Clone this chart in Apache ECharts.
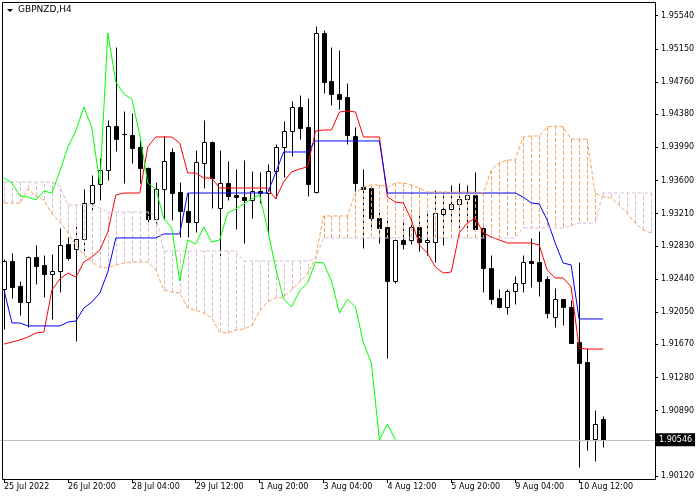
<!DOCTYPE html>
<html><head><meta charset="utf-8">
<script src="https://cdn.jsdelivr.net/npm/echarts@6/dist/echarts.min.js"></script>
<style>html,body{margin:0;padding:0;background:#fff}#c{width:700px;height:500px}</style>
</head><body><div id="c"></div><script>
const symbolTitle = 'GBPNZD,H4';
const open = [1.92322,1.92652,1.92357,1.92169,1.92699,1.92605,1.92499,1.92534,1.92852,1.92793,
1.92911,1.93335,1.93558,1.93723,1.94241,1.94147,1.94135,1.93994,1.93747,1.93146,
1.93500,1.93935,1.93464,1.93240,1.93111,1.93806,1.94053,1.93276,1.93570,1.93429,
1.93405,1.93370,1.93476,1.93452,1.93711,1.93994,1.94183,1.94465,1.94230,1.93464,
1.95336,1.94771,1.94618,1.94583,1.94124,1.93523,1.93511,1.93158,1.93052,1.92416,
1.92899,1.92899,1.93052,1.92875,1.92875,1.93205,1.93264,1.93323,1.93382,1.93429,
1.93040,1.92569,1.92216,1.92110,1.92298,1.92393,1.92652,1.92640,1.92440,1.91992,
1.92204,1.92110,1.91698,1.91462,1.90556,1.90791];
const high = [1.92675,1.92746,1.92416,1.92711,1.92840,1.92722,1.92734,1.93040,1.92934,1.93064,
1.93500,1.93664,1.93865,1.94312,1.95172,1.94418,1.94394,1.94077,1.93759,1.93582,
1.94124,1.93982,1.93582,1.93452,1.93959,1.94312,1.94065,1.93959,1.93829,1.93735,
1.93841,1.93711,1.93700,1.93794,1.94029,1.94300,1.94536,1.94606,1.94571,1.95419,
1.95372,1.95172,1.95136,1.94748,1.94230,1.93735,1.93535,1.93229,1.93158,1.92911,
1.93146,1.93205,1.93240,1.93229,1.93488,1.93452,1.93547,1.93570,1.93547,1.93700,
1.93052,1.92722,1.92322,1.92322,1.92475,1.92722,1.92923,1.93005,1.92475,1.92334,
1.92204,1.92193,1.92640,1.91627,1.90897,1.90827];
const low = [1.91851,1.92216,1.92016,1.91875,1.92381,1.92228,1.91969,1.92287,1.92664,1.91710,
1.92746,1.93229,1.93370,1.93606,1.93947,1.93570,1.93806,1.93570,1.93099,1.93099,
1.93146,1.93135,1.92934,1.92934,1.92993,1.93511,1.93276,1.92699,1.93370,1.93029,
1.92864,1.93158,1.93335,1.92958,1.93394,1.93641,1.93888,1.94088,1.93417,1.93452,
1.94630,1.94489,1.94442,1.94029,1.93476,1.92805,1.93040,1.92864,1.91510,1.92393,
1.92793,1.92852,1.92769,1.92722,1.92640,1.92840,1.93064,1.93029,1.93017,1.93029,
1.92287,1.92145,1.92098,1.92028,1.92145,1.92287,1.92346,1.92240,1.91981,1.91875,
1.91898,1.91686,1.90226,1.90426,1.90297,1.90462];
const close = [1.92652,1.92346,1.92169,1.92699,1.92593,1.92499,1.92534,1.92840,1.92687,1.92911,
1.93335,1.93547,1.93723,1.94241,1.94088,1.94147,1.93982,1.93747,1.93146,1.93500,
1.93829,1.93452,1.93240,1.93111,1.93817,1.94053,1.93629,1.93570,1.93417,1.93405,
1.93370,1.93476,1.93452,1.93711,1.93994,1.94183,1.94465,1.94218,1.93558,1.95336,
1.94759,1.94618,1.94559,1.94135,1.93570,1.93500,1.93158,1.93040,1.92416,1.92899,
1.92852,1.93052,1.92875,1.92899,1.93217,1.93264,1.93323,1.93382,1.93429,1.93029,
1.92569,1.92204,1.92110,1.92298,1.92393,1.92640,1.92628,1.92416,1.92039,1.92204,
1.92110,1.91686,1.91451,1.90544,1.90732,1.90546];
const tenkan = [1.91674,1.91698,1.91722,1.91757,1.91804,1.91816,1.92310,1.92440,1.92510,1.92463,
1.92640,1.92699,1.92781,1.92993,1.93429,1.93452,1.93452,1.93452,1.93994,1.94112,
1.94112,1.94112,1.94041,1.93688,1.93688,1.93629,1.93629,1.93511,1.93511,1.93511,
1.93511,1.93511,1.93511,1.93511,1.93382,1.93582,1.93700,1.93735,1.93759,1.94183,
1.94194,1.94194,1.94406,1.94418,1.94406,1.94112,1.94112,1.94112,1.93405,1.93346,
1.93335,1.93135,1.92840,1.92746,1.92581,1.92510,1.92522,1.92982,1.93099,1.93158,
1.92982,1.92934,1.92899,1.92864,1.92864,1.92864,1.92864,1.92840,1.92546,1.92452,
1.92452,1.92346,1.91627,1.91615,1.91615,1.91615];
const kijun = [1.92310,1.91922,1.91922,1.91887,1.91887,1.91887,1.91887,1.91887,1.91933,1.91945,
1.92098,1.92169,1.92275,1.92522,1.92923,1.92923,1.92923,1.92923,1.92923,1.92923,
1.92970,1.92970,1.92970,1.93452,1.93452,1.93452,1.93452,1.93452,1.93452,1.93452,
1.93452,1.93452,1.93452,1.93452,1.93688,1.93935,1.93935,1.93935,1.93935,1.94065,
1.94065,1.94065,1.94065,1.94065,1.94065,1.94065,1.94065,1.94065,1.93452,1.93452,
1.93452,1.93452,1.93452,1.93452,1.93452,1.93452,1.93452,1.93452,1.93452,1.93452,
1.93452,1.93452,1.93452,1.93452,1.93452,1.93405,1.93335,1.93323,1.93135,1.92864,
1.92628,1.92605,1.91969,1.91969,1.91969,1.91969];
const chikou = [1.93629,1.93570,1.93417,1.93405,1.93370,1.93476,1.93452,1.93711,1.93994,1.94183,
1.94465,1.94218,1.93558,1.95336,1.94759,1.94618,1.94559,1.94135,1.93570,1.93500,
1.93158,1.93040,1.92416,1.92899,1.92852,1.93052,1.92875,1.92899,1.93217,1.93264,
1.93323,1.93382,1.93429,1.93029,1.92569,1.92204,1.92110,1.92298,1.92393,1.92640,
1.92628,1.92416,1.92039,1.92204,1.92110,1.91686,1.91451,1.90544,1.90732,1.90546];
const spanA = [1.93335,1.93335,1.93335,1.93500,1.93417,1.93370,1.93205,1.93111,1.92982,1.92840,
1.92722,1.92640,1.92581,1.92569,1.92605,1.92628,1.92640,1.92640,1.92640,1.92546,
1.92310,1.92287,1.92275,1.92098,1.92075,1.92039,1.91981,1.91816,1.91804,1.91839,
1.91851,1.91887,1.92063,1.92169,1.92216,1.92228,1.92310,1.92404,1.92499,1.92687,
1.93182,1.93182,1.93182,1.93182,1.93452,1.93523,1.93547,1.93547,1.93523,1.93570,
1.93570,1.93547,1.93511,1.93464,1.93464,1.93464,1.93464,1.93464,1.93464,1.93464,
1.93452,1.93723,1.93806,1.93841,1.93841,1.94112,1.94124,1.94124,1.94230,1.94241,
1.94230,1.94088,1.94088,1.94088,1.93452,1.93405,1.93394,1.93311,1.93217,1.93099,
1.93017,1.92982];
const spanB = [1.93582,1.93582,1.93582,1.93582,1.93582,1.93582,1.93582,1.93535,1.93311,1.93311,
1.93311,1.93311,1.93276,1.93229,1.93229,1.93229,1.93229,1.93229,1.93229,1.93182,
1.92769,1.92769,1.92769,1.92769,1.92769,1.92769,1.92769,1.92769,1.92769,1.92769,
1.92652,1.92652,1.92652,1.92652,1.92652,1.92652,1.92652,1.92652,1.92652,1.92675,
1.92923,1.92923,1.92923,1.92923,1.92923,1.92923,1.92923,1.92923,1.92923,1.92923,
1.92923,1.92923,1.92923,1.92923,1.92923,1.92923,1.92923,1.92923,1.92923,1.92923,
1.92923,1.92923,1.92923,1.92923,1.92923,1.93040,1.93040,1.93040,1.93040,1.93040,
1.93040,1.93064,1.93099,1.93099,1.93099,1.93452,1.93452,1.93452,1.93452,1.93452,
1.93452,1.93452];
const lastPrice = 1.90546;
const priceTicks = ['1.95540','1.95150','1.94760','1.94380','1.93990','1.93600','1.93210','1.92830','1.92440','1.92050','1.91670','1.91280','1.90890','1.90500','1.90120'];
const timeTicks = ['25 Jul 2022','26 Jul 20:00','28 Jul 04:00','29 Jul 12:00','1 Aug 20:00','3 Aug 04:00','4 Aug 12:00','5 Aug 20:00','9 Aug 04:00','10 Aug 12:00'];
const tickEvery = 8;
const slots = 82;
const yMin = 1.90085, yMax = 1.95701;

const MON = ['Jan','Feb','Mar','Apr','May','Jun','Jul','Aug','Sep','Oct','Nov','Dec'];
const categories = [];
let t = Date.UTC(2022, 6, 25, 12);
while (categories.length < slots) {
  const d = new Date(t), wd = d.getUTCDay();
  if (wd !== 0 && wd !== 6) categories.push(d.getUTCDate() + ' ' + MON[d.getUTCMonth()] + ' ' + String(d.getUTCHours()).padStart(2,'0') + ':00');
  t += 4 * 3600e3;
}

const FONT = 'DejaVu Sans';
const chart = echarts.init(document.getElementById('c'), null, {renderer: 'canvas'});
const showTick = (i) => i % tickEvery === 0 && i / tickEvery < timeTicks.length;

function candleItem(params, api) {
  const i = api.value(0);
  const o = api.value(1), c = api.value(2), l = api.value(3), h = api.value(4);
  const po = api.coord([i, o]), pc = api.coord([i, c]), pl = api.coord([i, l]), ph = api.coord([i, h]);
  const x = Math.round(po[0]) + 0.5;
  const yo = Math.round(po[1]) + 0.5, yc = Math.round(pc[1]) + 0.5;
  const yl = Math.round(pl[1]) + 0.5, yh = Math.round(ph[1]) + 0.5;
  const bull = c > o;
  const top = Math.min(yo, yc), bot = Math.max(yo, yc);
  return {type: 'group', children: [
    {type: 'line', shape: {x1: x, y1: yh, x2: x, y2: yl}, style: {stroke: '#000', lineWidth: 1}},
    {type: 'rect', shape: {x: x - 2, y: top, width: 4, height: bot - top},
     style: {fill: bull ? '#fff' : '#000', stroke: '#000', lineWidth: 1}}
  ]};
}
function cloudItem(params, api) {
  const i = api.value(0), a = api.value(1), b = api.value(2);
  const pa = api.coord([i, a]), pb = api.coord([i, b]);
  const x = Math.round(pa[0]) + 0.5;
  return {type: 'line', shape: {x1: x, y1: pa[1], x2: x, y2: pb[1]},
    style: {stroke: a > b ? '#F4A460' : '#D8BFD8', lineWidth: 1, lineDash: [4, 2]}};
}
const lineS = (name, data, color, dash, extra) => Object.assign({
  name, type: 'line', data, showSymbol: false, symbol: 'none', animation: false, z: 4,
  lineStyle: {color, width: 1, type: dash ? [4, 2] : 'solid'}, silent: true
}, extra || {});

chart.setOption({
  animation: false,
  backgroundColor: '#fff',
  grid: {left: -1, right: 45, top: 2, bottom: 21, containLabel: false},
  xAxis: {
    type: 'category', data: categories, boundaryGap: true,
    axisLine: {show: false},
    axisTick: {show: true, interval: showTick, alignWithLabel: true, length: 4, lineStyle: {color: '#000'}},
    axisLabel: {interval: showTick, formatter: (v, i) => timeTicks[i / tickEvery], align: 'left', margin: 4,
      color: '#000', fontFamily: FONT, fontSize: 8},
    splitLine: {show: false}
  },
  yAxis: {
    type: 'value', position: 'right', min: yMin, max: yMax, scale: true,
    axisLine: {show: false},
    axisTick: {show: true, length: 3, customValues: priceTicks.map(Number), lineStyle: {color: '#000'}},
    axisLabel: {customValues: priceTicks.map(Number), formatter: (v) => v.toFixed(5), margin: 6,
      color: '#000', fontFamily: FONT, fontSize: 8},
    splitLine: {show: false}
  },
  graphic: [
    {type: 'rect', shape: {x: 2.5, y: 2.5, width: 653, height: 477}, style: {fill: null, stroke: '#000', lineWidth: 1}, z: 100, silent: true},
    {type: 'polygon', shape: {points: [[7, 9], [13, 9], [10, 12]]}, style: {fill: '#000'}, z: 100},
    {type: 'text', left: 18, top: 5, style: {text: symbolTitle, fill: '#000', font: '9px "DejaVu Sans"'}, z: 100}
  ],
  series: [
    {type: 'custom', name: 'candles', renderItem: candleItem, z: 2, silent: true,
      data: open.map((o, i) => [i, o, close[i], low[i], high[i]]), encode: {x: 0, y: [1, 2, 3, 4]}},
    {type: 'custom', name: 'kumo', renderItem: cloudItem, z: 3, silent: true,
      data: spanA.map((a, i) => [i, a, spanB[i]]), encode: {x: 0, y: [1, 2]}},
    lineS('Tenkan-sen', tenkan, '#FF0000', false, {
      markLine: {silent: true, symbol: 'none', animation: false, precision: 5,
        lineStyle: {color: '#C0C0C0', type: 'solid', width: 1},
        label: {show: true, position: 'end', distance: 1, formatter: () => lastPrice.toFixed(5),
          backgroundColor: '#000', color: '#fff', fontFamily: FONT, fontSize: 8, padding: [3, 3, 2, 3]},
        data: [{yAxis: lastPrice}]}}),
    lineS('Kijun-sen', kijun, '#0000FF'),
    lineS('Senkou Span A', spanA, '#F4A460', true),
    lineS('Senkou Span B', spanB, '#D8BFD8', true),
    lineS('Chikou Span', chikou, '#00FF00')
  ]
});
</script></body></html>
